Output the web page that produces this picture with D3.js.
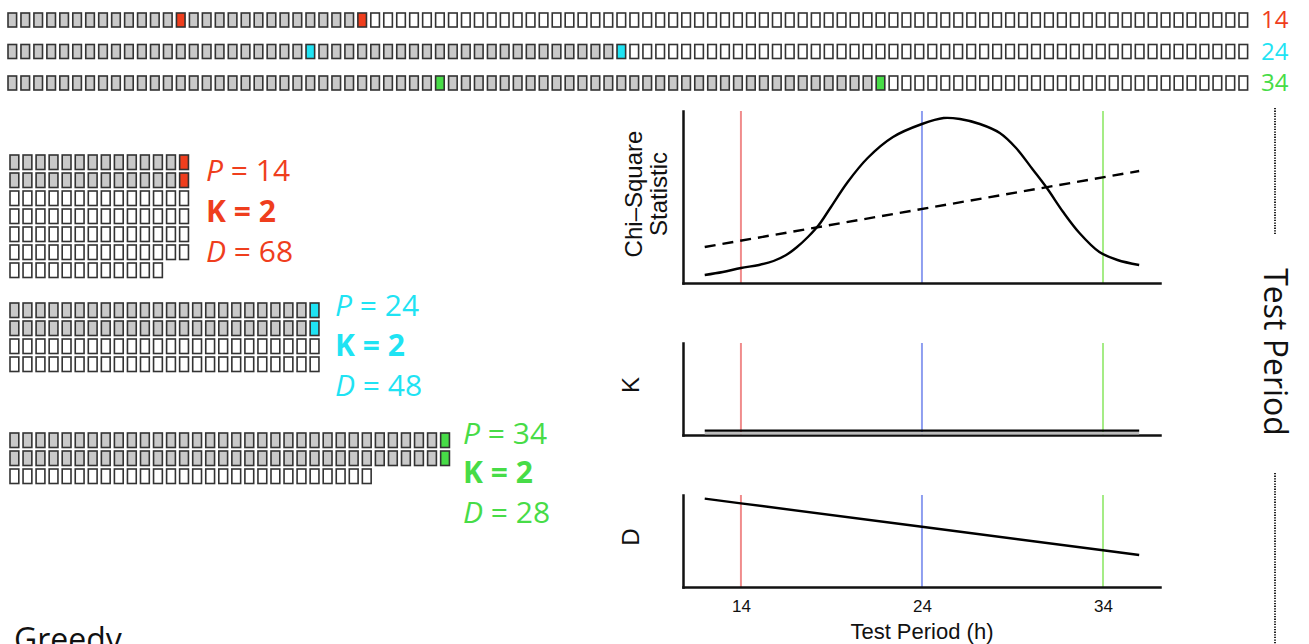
<!DOCTYPE html>
<html>
<head>
<meta charset="utf-8">
<script src="https://cdn.jsdelivr.net/npm/d3@7"></script>
<style>
  body { margin: 0; background: #fff; }
  svg { display: block; }
</style>
</head>
<body>
<svg width="1309" height="644"></svg>
<script>
// data
const totalSlots = 96;
const periods = [14, 24, 34];
const kValues = [2, 2, 2];
const dValues = [68, 48, 28];
const tickPeriods = [14, 24, 34];

// chi-square curve
const chiPeriods = [12.0, 13.0, 14.0, 15.0, 15.8, 16.5, 17.1, 17.7, 18.3, 18.9, 19.9, 21.0, 22.4, 24.0, 25.2,
  26.1, 27.2, 28.3, 29.2, 30.1, 30.9, 31.8, 32.7, 33.8, 34.8, 36.0];
const chiValues = [8, 11, 15, 18, 22, 28, 36, 46, 58, 74, 101, 125, 146, 159, 165,
  164, 159, 150, 135, 114, 95, 71, 50, 31, 23, 18];
const trendPeriods = [12, 36];
const trendValues = [36, 112];
const kLinePeriods = [12, 36];
const kLineValues = [2, 2];
const dLinePeriods = [12, 14, 24, 34, 36];
const dLineValues = [72, 68, 48, 28, 24];

// styles
const textColors = ["#ef3e1d", "#1fe3f3", "#47dc47"];
const periodLineColors = ["#f08c8c", "#8e9ef0", "#a5ec86"];
const chartFont = "'Liberation Sans', Arial, sans-serif";
const textFont = "'Open Sans', 'Noto Sans', sans-serif";

const svg = d3.select("svg");

// ---- top strips: all 96 slots, one strip per period ----
const stripX = d3.scaleLinear().domain([0, totalSlots - 1]).range([8, 1239]);
const stripY = d3.scalePoint().domain(periods).range([13, 76]);

periods.forEach(function (p, i) {
  const k = kValues[i];
  const slots = d3.range(totalSlots).map(function (j) {
    return { slot: j, filled: j < k * p, mark: j < k * p && (j + 1) % p === 0 };
  });
  const row = svg.append("g").attr("class", "strip");
  row.selectAll("rect")
    .data(slots)
    .enter()
    .append("rect")
    .attr("x", function (d) { return stripX(d.slot); })
    .attr("y", stripY(p))
    .attr("width", 8.6)
    .attr("height", 14)
    .attr("fill", function (d) {
      return d.mark ? textColors[i] : d.filled ? "#c9c9c9" : "#fff";
    })
    .attr("stroke", "#333")
    .attr("stroke-width", 1.6);

  svg.append("text")
    .attr("x", 1261)
    .attr("y", stripY(p) + 15)
    .attr("fill", textColors[i])
    .style("font-family", textFont)
    .style("font-size", "24px")
    .text(p);
});

// ---- left blocks: slots folded into rows of length P ----
const blockLayout = [
  { top: 155, textX: 206, lines: [181, 222, 262] },
  { top: 303, textX: 335, lines: [316, 356, 396] },
  { top: 433, textX: 463, lines: [444, 483, 523] }
];
const colX = d3.scaleLinear().domain([0, 1]).range([10, 23.05]);
const rowY = d3.scaleLinear().domain([0, 1]).range([0, 18]);

periods.forEach(function (p, i) {
  const k = kValues[i];
  const lay = blockLayout[i];
  const slots = d3.range(totalSlots).map(function (j) {
    return {
      col: j % p,
      row: Math.floor(j / p),
      filled: j < k * p,
      mark: j < k * p && (j + 1) % p === 0
    };
  });
  const block = svg.append("g").attr("class", "block");
  block.selectAll("rect")
    .data(slots)
    .enter()
    .append("rect")
    .attr("x", function (d) { return colX(d.col); })
    .attr("y", function (d) { return lay.top + rowY(d.row); })
    .attr("width", 8.8)
    .attr("height", 14.5)
    .attr("fill", function (d) {
      return d.mark ? textColors[i] : d.filled ? "#c9c9c9" : "#fff";
    })
    .attr("stroke", "#333")
    .attr("stroke-width", 1.6);

  const label = block.append("g")
    .attr("fill", textColors[i])
    .style("font-family", textFont)
    .style("font-size", "30px");

  const pText = label.append("text").attr("x", lay.textX).attr("y", lay.lines[0]);
  pText.append("tspan").style("font-style", "italic").text("P");
  pText.append("tspan").text(" = " + p);

  label.append("text")
    .attr("x", lay.textX)
    .attr("y", lay.lines[1])
    .style("font-weight", "bold")
    .text("K = " + k);

  const dText = label.append("text").attr("x", lay.textX).attr("y", lay.lines[2]);
  dText.append("tspan").style("font-style", "italic").text("D");
  dText.append("tspan").text(" = " + dValues[i]);
});

// ---- right panels ----
const x = d3.scaleLinear().domain([10.8, 37.15]).range([683, 1160]);
const yChi = d3.scaleLinear().domain([0, 172]).range([283, 111]);
const yK = d3.scaleLinear().domain([1.95, 3]).range([435, 343]);
const yD = d3.scaleLinear().domain([-3.3, 75.1]).range([587, 495]);

const panels = [
  { y: yChi, label: ["Chi\u2013Square", "Statistic"] },
  { y: yK, label: ["K"] },
  { y: yD, label: ["D"] }
];

function makeLine(yScale, curve) {
  return d3.line()
    .x(function (d) { return x(d[0]); })
    .y(function (d) { return yScale(d[1]); })
    .curve(curve || d3.curveLinear);
}

panels.forEach(function (panel, pi) {
  const y = panel.y;
  const g = svg.append("g").attr("class", "panel");

  // period markers
  g.selectAll("line.period")
    .data(periods)
    .enter()
    .append("line")
    .attr("class", "period")
    .attr("x1", function (d) { return x(d); })
    .attr("x2", function (d) { return x(d); })
    .attr("y1", y.range()[0])
    .attr("y2", y.range()[1])
    .attr("stroke", function (d, i) { return periodLineColors[i]; })
    .attr("stroke-width", 2);

  // axes (L-shaped frame)
  const xAxis = d3.axisBottom(x)
    .tickValues(pi === 2 ? tickPeriods : [])
    .tickSize(0)
    .tickPadding(13)
    .tickFormat(d3.format("d"));
  const gx = g.append("g")
    .attr("transform", "translate(0," + y.range()[0] + ")")
    .call(xAxis);
  const gy = g.append("g")
    .attr("transform", "translate(" + x.range()[0] + ",0)")
    .call(d3.axisLeft(y).tickValues([]).tickSize(0));
  [gx, gy].forEach(function (a) {
    a.select(".domain")
      .attr("stroke", "#111")
      .attr("stroke-width", 2.5)
      .attr("stroke-linecap", "square");
  });
  gx.selectAll("text")
    .attr("fill", "#111")
    .style("font-family", chartFont)
    .style("font-size", "17px");

  // y label
  const cy = (y.range()[0] + y.range()[1]) / 2;
  const lab = g.append("text")
    .attr("transform", "translate(" + (panel.label.length > 1 ? 642 : 639) + "," + (panel.label.length > 1 ? cy - 3 : cy - 4) + ") rotate(-90)")
    .attr("text-anchor", "middle")
    .attr("fill", "#111")
    .style("font-family", chartFont)
    .style("font-size", "24px");
  panel.label.forEach(function (t, li) {
    lab.append("tspan")
      .attr("x", 0)
      .attr("dy", li === 0 ? 0 : 25)
      .text(t);
  });
});

// chi-square curve and dashed trend
svg.append("path")
  .datum(d3.zip(chiPeriods, chiValues))
  .attr("d", makeLine(yChi, d3.curveCatmullRom.alpha(0.5)))
  .attr("fill", "none")
  .attr("stroke", "#000")
  .attr("stroke-width", 2.4);

svg.append("path")
  .datum(d3.zip(trendPeriods, trendValues))
  .attr("d", makeLine(yChi))
  .attr("fill", "none")
  .attr("stroke", "#000")
  .attr("stroke-width", 2.4)
  .attr("stroke-dasharray", "11,7");

// K line (with its faint grey shadow)
svg.append("path")
  .datum(d3.zip(kLinePeriods, kLineValues))
  .attr("d", makeLine(yK))
  .attr("transform", "translate(0,2.6)")
  .attr("fill", "none")
  .attr("stroke", "#bdbdbd")
  .attr("stroke-width", 2.5);
svg.append("path")
  .datum(d3.zip(kLinePeriods, kLineValues))
  .attr("d", makeLine(yK))
  .attr("fill", "none")
  .attr("stroke", "#000")
  .attr("stroke-width", 2.4);

// D line
svg.append("path")
  .datum(d3.zip(dLinePeriods, dLineValues))
  .attr("d", makeLine(yD))
  .attr("fill", "none")
  .attr("stroke", "#000")
  .attr("stroke-width", 2.4);

svg.append("text")
  .attr("x", x(24))
  .attr("y", 639)
  .attr("text-anchor", "middle")
  .attr("fill", "#111")
  .style("font-family", chartFont)
  .style("font-size", "22px")
  .text("Test Period (h)");

// ---- right side label with dotted leaders ----
svg.append("text")
  .attr("transform", "translate(1264,352) rotate(90)")
  .attr("text-anchor", "middle")
  .attr("fill", "#111")
  .style("font-family", textFont)
  .style("font-size", "32px")
  .text("Test Period");

svg.selectAll("line.leader")
  .data([[108, 235], [473, 644]])
  .enter()
  .append("line")
  .attr("class", "leader")
  .attr("x1", 1275)
  .attr("x2", 1275)
  .attr("y1", function (d) { return d[0]; })
  .attr("y2", function (d) { return d[1]; })
  .attr("stroke", "#222")
  .attr("stroke-width", 2)
  .attr("stroke-dasharray", "1.3,1.3");

svg.append("text")
  .attr("x", 14)
  .attr("y", 651)
  .attr("fill", "#111")
  .style("font-family", textFont)
  .style("font-size", "32px")
  .text("Greedy");
</script>
</body>
</html>
